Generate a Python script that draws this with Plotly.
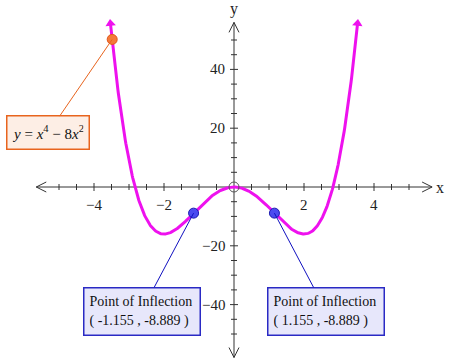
import numpy as np
import plotly.graph_objects as go

# ---------------- data ----------------
curve_x_min, curve_x_max = -3.53, 3.53           # visible span of y = x^4 - 8x^2
x_major_ticks = [-4, -2, 2, 4]
x_major_labels = ["−4", "−2", "2", "4"]
y_major_ticks = [-40, -20, 20, 40]
y_major_labels = ["−40", "−20", "20", "40"]
x_minor_ticks = [-5, -4.5, -3.5, -3, -2.5, -1.5, -1, -0.5, 0.5, 1, 1.5, 2.5, 3, 3.5, 4.5, 5]
y_minor_ticks = [-50, -45, -35, -30, -25, -15, -10, -5, 5, 10, 15, 25, 30, 35, 45, 50]
infl_x = [-1.155, 1.155]
infl_y = [-8.889, -8.889]
infl_labels = ["Point of Inflection<br>( -1.155 , -8.889 )",
               "Point of Inflection<br>( 1.155 , -8.889 )"]
infl_box_x = [-2.64, 2.63]
infl_box_y = [-42.2, -42.2]
eq_point_x = -3.48
eq_point_y = 50.2
eq_box_x, eq_box_y = -5.31, 18.4
eq_text = "<i>y</i> = <i>x</i><sup>4</sup> − 8<i>x</i><sup>2</sup>"
x_axis_span = (-5.65, 5.66)
y_axis_span = (-58.0, 56.0)

# ---------------- layout geometry ----------------
W, H = 450, 360
PX_X = 35.0      # px per x unit
PX_Y = 2.94      # px per y unit
ORIGIN_PX = (234, 187)
x_range = [-ORIGIN_PX[0] / PX_X, (W - ORIGIN_PX[0]) / PX_X]
y_range = [-(H - ORIGIN_PX[1]) / PX_Y, ORIGIN_PX[1] / PX_Y]

AXIS_COLOR = "#333333"
FONT = "Liberation Serif"
MAGENTA = "#ee11ee"

fig = go.Figure()

def seg_trace(xs, ys, color, width):
    return go.Scatter(x=xs, y=ys, mode="lines", line=dict(color=color, width=width),
                      hoverinfo="skip", showlegend=False)

# axes lines
fig.add_trace(seg_trace([x_axis_span[0], x_axis_span[1]], [0, 0], AXIS_COLOR, 1))
fig.add_trace(seg_trace([0, 0], [y_axis_span[0], y_axis_span[1]], AXIS_COLOR, 1))

# open arrow heads on axes
ah_len, ah_half = 10 / PX_X, 5 / PX_Y
axs, ays = [], []
axs += [x_axis_span[1] - ah_len, x_axis_span[1], x_axis_span[1] - ah_len, None]
ays += [ah_half, 0, -ah_half, None]
axs += [x_axis_span[0] + ah_len, x_axis_span[0], x_axis_span[0] + ah_len, None]
ays += [ah_half, 0, -ah_half, None]
ah_len_y, ah_half_x = 10 / PX_Y, 5 / PX_X
axs += [-ah_half_x, 0, ah_half_x, None]
ays += [y_axis_span[1] - ah_len_y, y_axis_span[1], y_axis_span[1] - ah_len_y, None]
axs += [-ah_half_x, 0, ah_half_x, None]
ays += [y_axis_span[0] + ah_len_y, y_axis_span[0], y_axis_span[0] + ah_len_y, None]
fig.add_trace(seg_trace(axs, ays, AXIS_COLOR, 1))

# ticks
tx, ty = [], []
for v in x_major_ticks:
    tx += [v, v, None]; ty += [-4 / PX_Y, 4 / PX_Y, None]
for v in x_minor_ticks:
    tx += [v, v, None]; ty += [-3 / PX_Y, 3 / PX_Y, None]
for v in y_major_ticks:
    tx += [-4 / PX_X, 4 / PX_X, None]; ty += [v, v, None]
for v in y_minor_ticks:
    tx += [-3 / PX_X, 3 / PX_X, None]; ty += [v, v, None]
fig.add_trace(seg_trace(tx, ty, AXIS_COLOR, 1))

# curve
cx = np.linspace(curve_x_min, curve_x_max, 500)
cy = cx ** 4 - 8 * cx ** 2
fig.add_trace(go.Scatter(x=cx, y=cy, mode="lines", line=dict(color=MAGENTA, width=3),
                         hoverinfo="skip", showlegend=False))

# arrowheads at the curve ends
def end_angle(xv):
    slope = 4 * xv ** 3 - 16 * xv
    return float(np.degrees(np.arctan2(PX_X, abs(slope) * PX_Y)))
ang = end_angle(curve_x_max)
fig.add_trace(go.Scatter(x=[curve_x_min, curve_x_max],
                         y=[curve_x_min ** 4 - 8 * curve_x_min ** 2, curve_x_max ** 4 - 8 * curve_x_max ** 2],
                         mode="markers",
                         marker=dict(symbol="triangle-up", size=9, color=MAGENTA,
                                     angle=[-ang, ang], line=dict(width=0)),
                         hoverinfo="skip", showlegend=False))

# origin hollow circle
fig.add_trace(go.Scatter(x=[0], y=[0], mode="markers",
                         marker=dict(symbol="circle-open", size=10, color="#555555", line=dict(width=1)),
                         hoverinfo="skip", showlegend=False))

# inflection points
fig.add_trace(go.Scatter(x=infl_x, y=infl_y, mode="markers",
                         marker=dict(symbol="circle", size=10, color="#4b4bf0",
                                     line=dict(color="#1c1cb0", width=1)),
                         hoverinfo="skip", showlegend=False))

# equation point
fig.add_trace(go.Scatter(x=[eq_point_x], y=[eq_point_y], mode="markers",
                         marker=dict(symbol="circle", size=10, color="#f47a3a",
                                     line=dict(color="#e2561a", width=1)),
                         hoverinfo="skip", showlegend=False))

annotations = []
for v, t in zip(x_major_ticks, x_major_labels):
    annotations.append(dict(x=v, y=0, text=t, showarrow=False, yshift=-18,
                            font=dict(family=FONT, size=15, color="#222222")))
for v, t in zip(y_major_ticks, y_major_labels):
    annotations.append(dict(x=0, y=v, text=t, showarrow=False, xanchor="right", xshift=-7,
                            font=dict(family=FONT, size=15, color="#222222")))
annotations.append(dict(x=x_axis_span[1], y=0, text="x", showarrow=False, xanchor="left", xshift=2,
                        font=dict(family=FONT, size=16, color="#222222")))
annotations.append(dict(x=0, y=y_axis_span[1], text="y", showarrow=False, yanchor="bottom", yshift=2,
                        font=dict(family=FONT, size=16, color="#222222")))

for px_, py_, bx, by, txt in zip(infl_x, infl_y, infl_box_x, infl_box_y, infl_labels):
    annotations.append(dict(x=px_, y=py_, ax=bx, ay=by, axref="x", ayref="y",
                            text=txt, showarrow=True, arrowhead=0, arrowwidth=1,
                            arrowcolor="#1010c0", standoff=0,
                            align="left", width=105, height=36, borderpad=5,
                            bordercolor="#2a2ac4", borderwidth=1.5, bgcolor="#e7e7fb",
                            font=dict(family=FONT, size=14, color="#111111")))
annotations.append(dict(x=eq_point_x, y=eq_point_y, ax=eq_box_x, ay=eq_box_y, axref="x", ayref="y",
                        text=eq_text, showarrow=True, arrowhead=0, arrowwidth=1,
                        arrowcolor="#e8641e", standoff=0,
                        align="center", width=71, height=22, borderpad=5,
                        bordercolor="#e8641e", borderwidth=1.5, bgcolor="#fdeee5",
                        font=dict(family=FONT, size=15, color="#111111")))

fig.update_layout(
    width=W, height=H,
    margin=dict(l=0, r=0, t=0, b=0),
    paper_bgcolor="white", plot_bgcolor="white",
    xaxis=dict(range=x_range, visible=False, fixedrange=True),
    yaxis=dict(range=y_range, visible=False, fixedrange=True),
    annotations=annotations,
    showlegend=False,
)

fig.write_html("out.html")
